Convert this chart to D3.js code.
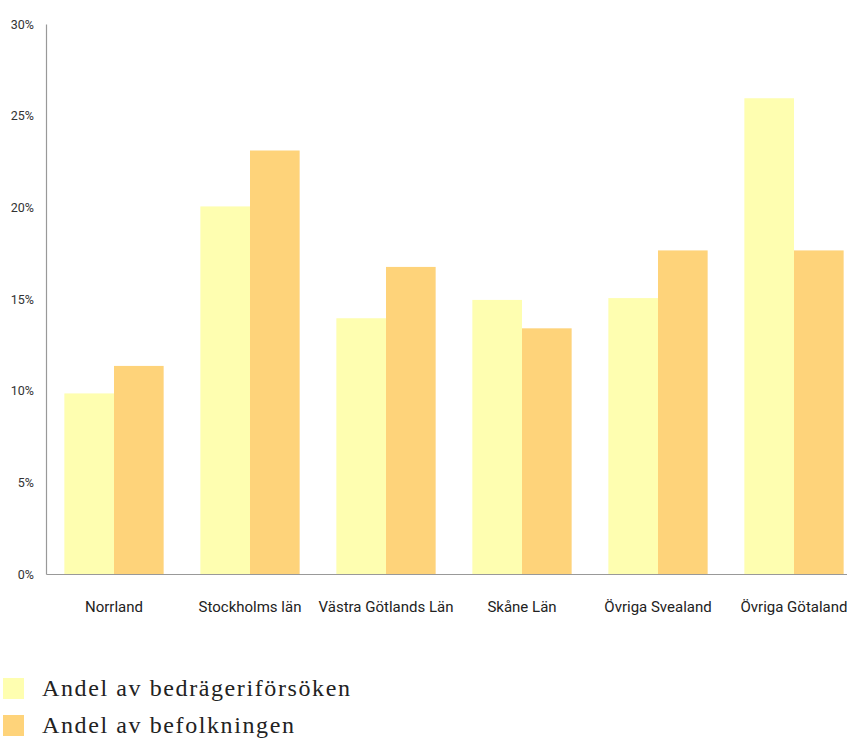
<!DOCTYPE html>
<html>
<head>
<meta charset="utf-8">
<script src="https://cdn.jsdelivr.net/npm/d3@7"></script>
<style>
  body { margin: 0; background: #fff; }
  svg { display: block; }
</style>
</head>
<body>
<svg width="847" height="740"></svg>
<script>
var categories = ["Norrland", "Stockholms län", "Västra Götlands Län", "Skåne Län", "Övriga Svealand", "Övriga Götaland"];
var seriesNames = ["Andel av bedrägeriförsöken", "Andel av befolkningen"];
var forsok = [9.85, 20.05, 13.95, 14.95, 15.05, 25.95];
var befolkning = [11.35, 23.1, 16.75, 13.4, 17.65, 17.65];
var yTicks = [0, 5, 10, 15, 20, 25, 30];
var colors = ["#FEFEB0", "#FED37A"];

var svg = d3.select("svg");
var x0 = 46, yBottom = 574, yTop = 24;

var x = d3.scaleBand()
  .domain(categories)
  .range([x0, x0 + 6 * 136])
  .paddingInner(0.27)
  .paddingOuter(0.135);

var xs = d3.scaleBand()
  .domain([0, 1])
  .range([0, x.bandwidth()]);

var y = d3.scaleLinear()
  .domain([0, 30])
  .range([yBottom, yTop]);

var rows = categories.map(function(c, i) {
  return { cat: c, vals: [forsok[i], befolkning[i]] };
});

var groups = svg.selectAll("g.grp")
  .data(rows)
  .enter()
  .append("g")
  .attr("class", "grp")
  .attr("transform", function(d) { return "translate(" + x(d.cat) + ",0)"; });

groups.selectAll("rect")
  .data(function(d) { return d.vals; })
  .enter()
  .append("rect")
  .attr("x", function(d, i) { return xs(i); })
  .attr("width", xs.bandwidth())
  .attr("y", function(d) { return y(d); })
  .attr("height", function(d) { return yBottom - y(d); })
  .attr("fill", function(d, i) { return colors[i]; });

// y axis
var yAxis = d3.axisLeft(y)
  .tickValues(yTicks)
  .tickSize(0)
  .tickPadding(12)
  .tickFormat(function(d) { return d + "%"; });

var ya = svg.append("g")
  .attr("transform", "translate(" + x0 + ",0)")
  .call(yAxis);
ya.select(".domain").attr("stroke", "#999").attr("stroke-width", 1.2);
ya.selectAll("text")
  .attr("font-family", "Roboto, sans-serif")
  .attr("font-size", 12.5)
  .attr("fill", "#333");

// x axis
var xAxis = d3.axisBottom(x).tickSize(0).tickPadding(27);
var xa = svg.append("g")
  .attr("transform", "translate(0," + yBottom + ")")
  .call(xAxis);
xa.select(".domain").attr("stroke", "#999").attr("stroke-width", 1.2);
xa.selectAll("text")
  .attr("font-family", "Roboto, sans-serif")
  .attr("font-size", 15)
  .attr("fill", "#222");

// legend
var legend = svg.selectAll("g.leg")
  .data(seriesNames)
  .enter()
  .append("g")
  .attr("class", "leg")
  .attr("transform", function(d, i) { return "translate(3," + (678 + i * 37) + ")"; });

legend.append("rect")
  .attr("width", 21)
  .attr("height", 21)
  .attr("fill", function(d, i) { return colors[i]; });

legend.append("text")
  .attr("x", 39)
  .attr("y", 18)
  .attr("font-family", "'Liberation Serif', serif")
  .attr("font-size", 24)
  .attr("letter-spacing", 1.6)
  .attr("fill", "#222")
  .text(function(d) { return d; });
</script>
</body>
</html>
